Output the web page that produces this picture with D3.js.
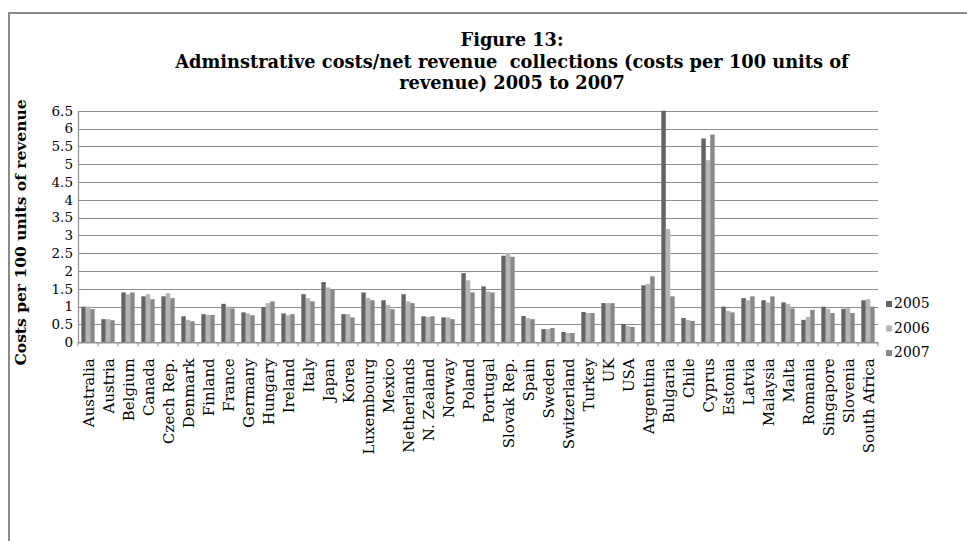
<!DOCTYPE html>
<html>
<head>
<meta charset="utf-8">
<script src="https://cdn.jsdelivr.net/npm/d3@7"></script>
<style>
  html, body { margin: 0; padding: 0; background: #fff; }
  svg { display: block; }
  text { font-family: "DejaVu Serif", "Liberation Serif", serif; fill: #000; }
</style>
</head>
<body>
<svg id="chart" width="967" height="541"></svg>
<script>
// Countries in chart order
const countries = ["Australia","Austria","Belgium","Canada","Czech Rep.","Denmark","Finland","France","Germany","Hungary",
  "Ireland","Italy","Japan","Korea","Luxembourg","Mexico","Netherlands","N. Zealand","Norway","Poland",
  "Portugal","Slovak Rep.","Spain","Sweden","Switzerland","Turkey","UK","USA","Argentina","Bulgaria",
  "Chile","Cyprus","Estonia","Latvia","Malaysia","Malta","Romania","Singapore","Slovenia","South Africa"];

const years = ["2005","2006","2007"];

// Costs per 100 units of revenue
const v2005 = [1.00,0.65,1.40,1.29,1.29,0.73,0.79,1.08,0.84,0.99,
  0.81,1.35,1.69,0.79,1.40,1.18,1.35,0.73,0.70,1.94,
  1.57,2.43,0.74,0.37,0.29,0.85,1.10,0.51,1.60,6.50,
  0.68,5.72,1.00,1.24,1.18,1.12,0.63,1.00,0.94,1.18];
const v2006 = [1.00,0.65,1.35,1.35,1.38,0.63,0.77,1.00,0.81,1.10,
  0.76,1.24,1.54,0.79,1.24,1.05,1.15,0.71,0.70,1.74,
  1.43,2.50,0.68,0.37,0.26,0.82,1.10,0.46,1.64,3.18,
  0.63,5.11,0.88,1.18,1.12,1.07,0.71,0.94,0.96,1.21];
const v2007 = [0.93,0.62,1.40,1.21,1.24,0.59,0.77,0.95,0.76,1.15,
  0.79,1.15,1.49,0.70,1.18,0.93,1.10,0.73,0.65,1.40,
  1.40,2.40,0.65,0.40,0.26,0.82,1.10,0.43,1.85,1.29,
  0.60,5.83,0.84,1.29,1.29,0.95,0.91,0.82,0.82,1.00];

const yTicks = [0,0.5,1,1.5,2,2.5,3,3.5,4,4.5,5,5.5,6,6.5];

const series = [v2005, v2006, v2007];
const colors = ["#646464", "#b4b4b4", "#888888"];

const svg = d3.select("#chart");

// outer frame (top and left edges)
svg.append("line").attr("x1", 9).attr("x2", 967).attr("y1", 13).attr("y2", 13)
  .attr("stroke", "#8a8a8a").attr("stroke-width", 2);
svg.append("line").attr("x1", 9).attr("x2", 9).attr("y1", 12).attr("y2", 541)
  .attr("stroke", "#8a8a8a").attr("stroke-width", 2);

const plot = { left: 78, right: 878, top: 110.7, bottom: 342.3 };

const x0 = d3.scaleBand().domain(countries).range([plot.left, plot.right])
  .paddingInner(1.5 / 4.5).paddingOuter(0.75 / 4.5);
const x1 = d3.scaleBand().domain(years).range([0, x0.bandwidth()]).padding(0);
const y = d3.scaleLinear().domain([0, 6.5]).range([plot.bottom, plot.top]);

// horizontal gridlines
svg.append("g").selectAll("line").data(yTicks.filter(t => t > 0)).join("line")
  .attr("x1", plot.left).attr("x2", plot.right)
  .attr("y1", d => Math.round(y(d)) + 0.5).attr("y2", d => Math.round(y(d)) + 0.5)
  .attr("stroke", "#8f8f8f").attr("stroke-width", 1.2);

// bars
const groups = svg.append("g").selectAll("g").data(countries).join("g")
  .attr("transform", d => `translate(${x0(d)},0)`);
groups.selectAll("rect")
  .data((c, i) => years.map((yr, k) => ({ yr, k, v: series[k][i] })))
  .join("rect")
  .attr("x", d => x1(d.yr))
  .attr("width", x1.bandwidth())
  .attr("y", d => y(Math.min(d.v, 6.5)))
  .attr("height", d => y(0) - y(Math.min(d.v, 6.5)))
  .attr("fill", d => colors[d.k]);

// y axis
const yAxis = d3.axisLeft(y).tickValues(yTicks).tickSize(0).tickPadding(5)
  .tickFormat(d => d === 0 ? "0" : String(d));
const gy = svg.append("g").attr("transform", `translate(${plot.left},0)`).call(yAxis);
gy.select(".domain").attr("stroke", "#8f8f8f").attr("stroke-width", 1.2);
gy.selectAll("text").attr("font-size", 13.5).attr("font-family", "DejaVu Serif");

// x axis
const xAxis = d3.axisBottom(x0).tickSize(0).tickPadding(0);
const gx = svg.append("g").attr("transform", `translate(0,${plot.bottom})`).call(xAxis);
gx.select(".domain").attr("stroke", "#8f8f8f").attr("stroke-width", 1.5);
gx.selectAll(".tick text")
  .attr("font-size", 15).attr("font-family", "DejaVu Serif")
  .attr("text-anchor", "end")
  .attr("transform", "translate(5.5,16) rotate(-90)")
  .attr("dy", 0).attr("x", 0).attr("y", 0);
// category boundary ticks
svg.append("g").selectAll("line").data(d3.range(countries.length + 1)).join("line")
  .attr("x1", i => plot.left + i * x0.step()).attr("x2", i => plot.left + i * x0.step())
  .attr("y1", plot.bottom).attr("y2", plot.bottom + 4)
  .attr("stroke", "#8f8f8f").attr("stroke-width", 1);

// y axis title
svg.append("text")
  .attr("transform", `translate(26,${(plot.top + plot.bottom) / 2 + 6}) rotate(-90)`)
  .attr("text-anchor", "middle")
  .attr("font-size", 15.5).attr("font-weight", "bold")
  .text("Costs per 100 units of revenue");

// title
const titleLines = ["Figure 13:",
  "Adminstrative costs/net revenue  collections (costs per 100 units of",
  "revenue) 2005 to 2007"];
svg.append("g").selectAll("text").data(titleLines).join("text")
  .attr("x", 512).attr("y", (d, i) => 46 + i * 21.5)
  .attr("text-anchor", "middle")
  .attr("font-size", 17.8).attr("font-weight", "bold")
  .attr("xml:space", "preserve")
  .text(d => d);

// legend
const legend = svg.append("g").selectAll("g").data(years).join("g")
  .attr("transform", (d, i) => `translate(886,${301 + i * 24.5})`);
legend.append("rect").attr("width", 6).attr("height", 6).attr("fill", (d, i) => colors[i]);
legend.append("text").attr("x", 8).attr("y", 7).attr("font-size", 14).text(d => d);
</script>
</body>
</html>
